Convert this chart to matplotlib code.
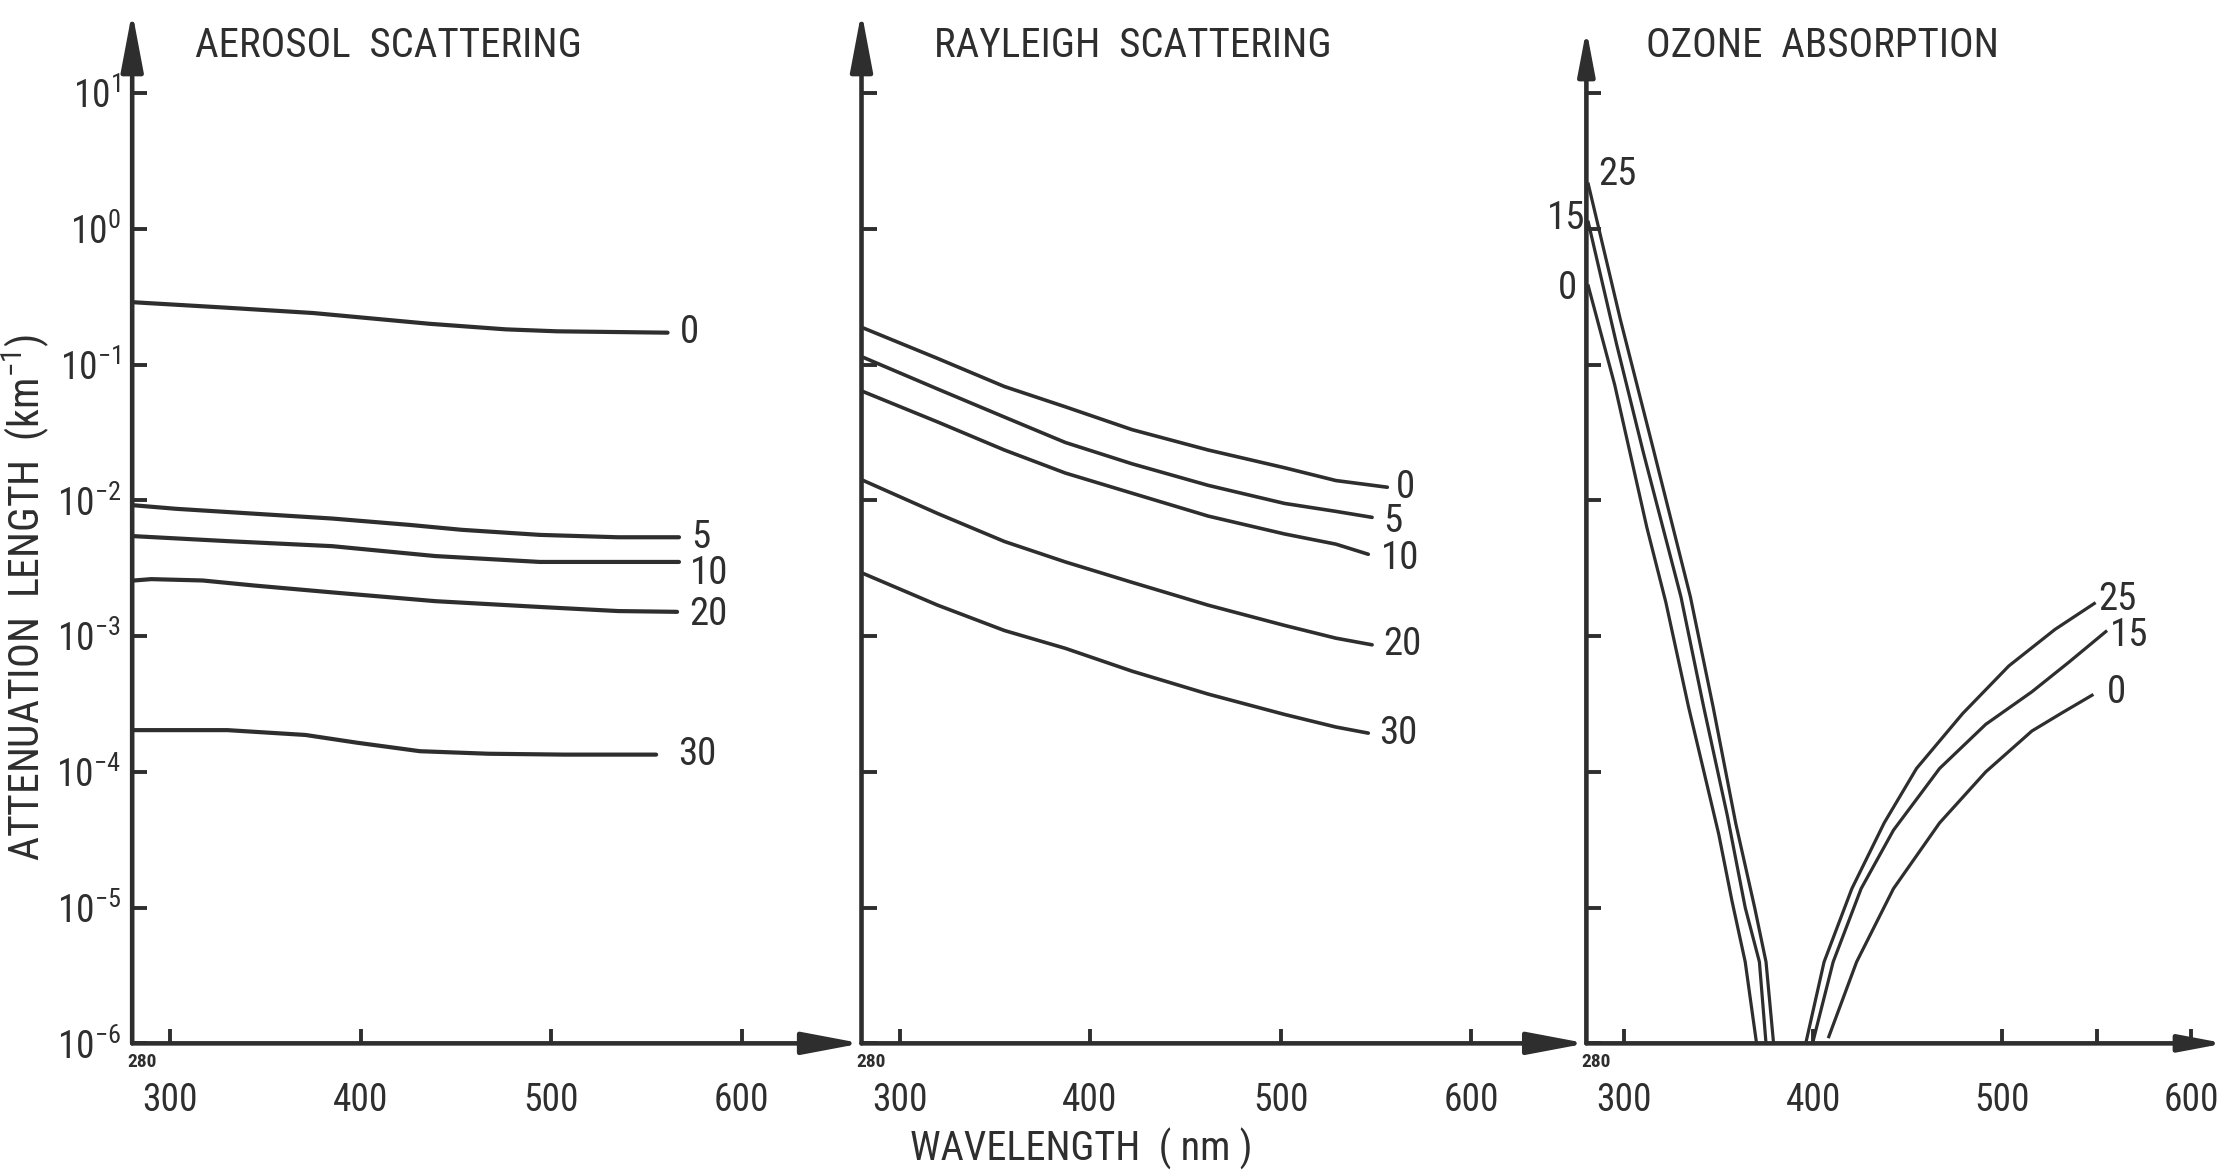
import matplotlib.pyplot as plt
from matplotlib import font_manager
from matplotlib.ticker import FixedLocator, NullLocator

INK = "#2e2e2e"

# wavelength (nm) and attenuation length (km^-1), one list per altitude (km)
AER_LABELS = ["0", "5", "10", "20", "30"]
AER_WL = [
    [281, 329, 375, 436, 476, 503, 561],
    [281, 303, 344, 385, 426, 453, 494, 535, 567],
    [281, 330, 385, 439, 494, 567],
    [281, 290, 317, 344, 385, 439, 494, 535, 566],
    [281, 330, 371, 398, 431, 467, 507, 555],
]
AER_VAL = [
    [0.288, 0.263, 0.240, 0.200, 0.182, 0.176, 0.172],
    [9.2e-3, 8.67e-3, 7.98e-3, 7.35e-3, 6.59e-3, 6.07e-3, 5.57e-3, 5.35e-3, 5.35e-3],
    [5.45e-3, 5.01e-3, 4.60e-3, 3.89e-3, 3.52e-3, 3.52e-3],
    [2.57e-3, 2.63e-3, 2.57e-3, 2.36e-3, 2.10e-3, 1.81e-3, 1.64e-3, 1.53e-3, 1.51e-3],
    [2.03e-4, 2.03e-4, 1.87e-4, 1.64e-4, 1.42e-4, 1.36e-4, 1.34e-4, 1.34e-4],
]

RAY_LABELS = ["0", "5", "10", "20", "30"]
RAY_WL = [
    [281, 320, 355, 387, 422, 462, 502, 529, 556],
    [281, 320, 355, 387, 422, 462, 502, 529, 548],
    [281, 320, 355, 387, 422, 462, 502, 529, 546],
    [281, 320, 355, 387, 422, 462, 502, 529, 548],
    [281, 320, 355, 387, 422, 462, 502, 529, 546],
]
RAY_VAL = [
    [0.186, 0.111, 0.069, 0.0489, 0.0332, 0.0235, 0.0174, 0.0140, 0.0125],
    [0.113, 0.0661, 0.0411, 0.0267, 0.0186, 0.0129, 9.5e-3, 8.3e-3, 7.5e-3],
    [0.0632, 0.0378, 0.0235, 0.0159, 0.0113, 7.66e-3, 5.66e-3, 4.76e-3, 4.01e-3],
    [0.0140, 8.0e-3, 4.98e-3, 3.52e-3, 2.49e-3, 1.69e-3, 1.20e-3, 9.66e-4, 8.63e-4],
    [2.89e-3, 1.69e-3, 1.10e-3, 8.13e-4, 5.52e-4, 3.74e-4, 2.65e-4, 2.14e-4, 1.93e-4],
]

# ozone: short-wave (Hartley/Huggins) branch and Chappuis branch
OZ_LABELS = ["25", "15", "0"]
OZ_WL_SHORT = [
    [281, 298, 315, 335, 347, 359, 369, 375, 379],
    [281, 296, 310, 330, 342, 354.5, 364, 371.5, 375],
    [281, 295, 312, 322, 334, 350, 357, 364, 368, 370],
]
OZ_VAL_SHORT = [
    [2.14, 0.214, 0.0251, 1.95e-3, 3.02e-4, 4.17e-5, 1.0e-5, 3.98e-6, 1.0e-6],
    [1.12, 0.141, 0.0229, 1.95e-3, 3.02e-4, 4.79e-5, 1.0e-5, 3.98e-6, 1.0e-6],
    [0.380, 0.0708, 6.3e-3, 1.78e-3, 3.02e-4, 3.47e-5, 1.12e-5, 3.98e-6, 1.58e-6, 1.0e-6],
]
OZ_WL_LONG = [
    [396, 405.7, 420.4, 437.5, 454.6, 479, 503.4, 527.8, 548.6],
    [399.6, 410.5, 425.3, 442.4, 466.8, 491.2, 515.6, 535, 554.7],
    [408.2, 422.9, 442.4, 466.8, 491.2, 515.6, 531.5, 547.4],
]
OZ_VAL_LONG = [
    [1.0e-6, 3.98e-6, 1.38e-5, 4.21e-5, 1.06e-4, 2.69e-4, 6.03e-4, 1.12e-3, 1.74e-3],
    [1.0e-6, 3.98e-6, 1.38e-5, 3.72e-5, 1.06e-4, 2.24e-4, 3.89e-4, 6.4e-4, 1.08e-3],
    [1.12e-6, 3.98e-6, 1.38e-5, 4.21e-5, 1.0e-4, 2.0e-4, 2.72e-4, 3.67e-4],
]

YTICKS = [1e1, 1e0, 1e-1, 1e-2, 1e-3, 1e-4, 1e-5, 1e-6]
YTICK_LABELS = ["$10^{1}$", "$10^{0}$", "$10^{-1}$", "$10^{-2}$",
                "$10^{-3}$", "$10^{-4}$", "$10^{-5}$", "$10^{-6}$"]
XTICKS = [300, 400, 500, 600]
XTICK_LABELS = ["300", "400", "500", "600"]


def pick_font():
    names = {f.name for f in font_manager.fontManager.ttflist}
    for cand in ["Liberation Sans Narrow", "DejaVu Sans Condensed", "Roboto Condensed",
                 "Open Sans Condensed", "DejaVu Sans"]:
        if cand in names:
            return cand
    return "DejaVu Sans"


def axis_arrows(ax, top=1.0, scale=40):
    style = "-|>,head_length=0.9,head_width=0.17"
    kw = dict(arrowstyle=style, lw=3.3, color=INK, shrinkA=0, shrinkB=0,
              mutation_scale=scale)
    ax.annotate("", xy=(0, top), xytext=(0, 0), xycoords="axes fraction",
                arrowprops=kw, annotation_clip=False)
    ax.annotate("", xy=(1, 0), xytext=(0, 0), xycoords="axes fraction",
                arrowprops=kw, annotation_clip=False)


def style_axes(ax, xmax, show_ylabels):
    ax.set_yscale("log")
    ax.set_ylim(1e-6, 10 ** 1.6)
    ax.set_xlim(280, xmax)
    for s in ax.spines.values():
        s.set_visible(False)
    ax.yaxis.set_major_locator(FixedLocator(YTICKS))
    ax.yaxis.set_minor_locator(NullLocator())
    if show_ylabels:
        ax.set_yticklabels(YTICK_LABELS)
    ax.tick_params(axis="y", direction="in", length=11, width=2.8, color=INK,
                   labelsize=27, labelcolor=INK, pad=8, labelleft=show_ylabels)
    ax.set_xticks(XTICKS)
    ax.set_xticklabels(XTICK_LABELS)
    ax.tick_params(axis="x", direction="in", length=10, width=2.8, color=INK,
                   labelsize=27, labelcolor=INK, pad=28)
    ax.text(285, 10 ** -6.14, "280", fontsize=14, fontweight="bold", color=INK,
            ha="center", va="center", clip_on=False)


def label_end(ax, x, y, text, dx, dy, ha="left"):
    ax.annotate(text, xy=(x, y), xytext=(dx, dy), textcoords="offset points",
                ha=ha, va="center", fontsize=28, color=INK, annotation_clip=False)


def main():
    family = pick_font()
    plt.rcParams["font.family"] = family
    plt.rcParams["mathtext.fontset"] = "custom"
    plt.rcParams["mathtext.rm"] = family
    plt.rcParams["mathtext.it"] = family
    plt.rcParams["mathtext.default"] = "rm"

    fig = plt.figure(figsize=(22.29, 11.71), dpi=100)
    bottom, height = 0.109, 0.881

    # aerosol
    ax1 = fig.add_axes([0.0593, bottom, 0.3272, height])
    style_axes(ax1, 662.8, True)
    axis_arrows(ax1)
    offs = [(9, 0), (9, 0), (8, -8), (9, -2), (16, 0)]
    for wl, val, lab, (dx, dy) in zip(AER_WL, AER_VAL, AER_LABELS, offs):
        ax1.plot(wl, val, color=INK, lw=3.0, solid_capstyle="round")
        label_end(ax1, wl[-1], val[-1], lab, dx, dy)
    ax1.text(0.086, 0.967, "AEROSOL  SCATTERING", transform=ax1.transAxes,
             fontsize=29.5, color=INK, ha="left", va="center")

    # rayleigh
    ax2 = fig.add_axes([0.3865, bottom, 0.3253, height])
    style_axes(ax2, 660.6, False)
    axis_arrows(ax2)
    offs = [(6, 0), (8, -3), (9, -3), (8, 0), (8, 0)]
    for wl, val, lab, (dx, dy) in zip(RAY_WL, RAY_VAL, RAY_LABELS, offs):
        ax2.plot(wl, val, color=INK, lw=2.6, solid_capstyle="round")
        label_end(ax2, wl[-1], val[-1], lab, dx, dy)
    ax2.text(0.10, 0.967, "RAYLEIGH  SCATTERING", transform=ax2.transAxes,
             fontsize=29.5, color=INK, ha="left", va="center")

    # ozone
    ax3 = fig.add_axes([0.7117, bottom, 0.2864, height])
    style_axes(ax3, 617.6, False)
    ax3.set_xticks([550], minor=True)
    ax3.tick_params(axis="x", which="minor", direction="in", length=10,
                    width=2.8, color=INK)
    axis_arrows(ax3, top=0.983, scale=30)
    start_offs = [(7, 7, "left"), (-2, 3, "right"), (-8, -2, "right")]
    end_offs = [(3, 3), (3, -3), (11, 2)]
    for i, lab in enumerate(OZ_LABELS):
        ax3.plot(OZ_WL_SHORT[i], OZ_VAL_SHORT[i], color=INK, lw=2.3)
        ax3.plot(OZ_WL_LONG[i], OZ_VAL_LONG[i], color=INK, lw=2.3)
        dx, dy, ha = start_offs[i]
        label_end(ax3, OZ_WL_SHORT[i][0], OZ_VAL_SHORT[i][0], lab, dx, dy, ha)
        dx, dy = end_offs[i]
        label_end(ax3, OZ_WL_LONG[i][-1], OZ_VAL_LONG[i][-1], lab, dx, dy)
    ax3.text(0.094, 0.967, "OZONE  ABSORPTION", transform=ax3.transAxes,
             fontsize=29.5, color=INK, ha="left", va="center")

    fig.text(0.0115, 0.49, "ATTENUATION  LENGTH  (km$^{-1}$)", rotation=90,
             fontsize=30, color=INK, ha="center", va="center")
    fig.text(0.485, 0.019, "WAVELENGTH  ( nm )", fontsize=29, color=INK,
             ha="center", va="center")

    fig.savefig("out.png", dpi=100, facecolor="white")
    plt.close(fig)


if __name__ == "__main__":
    main()
